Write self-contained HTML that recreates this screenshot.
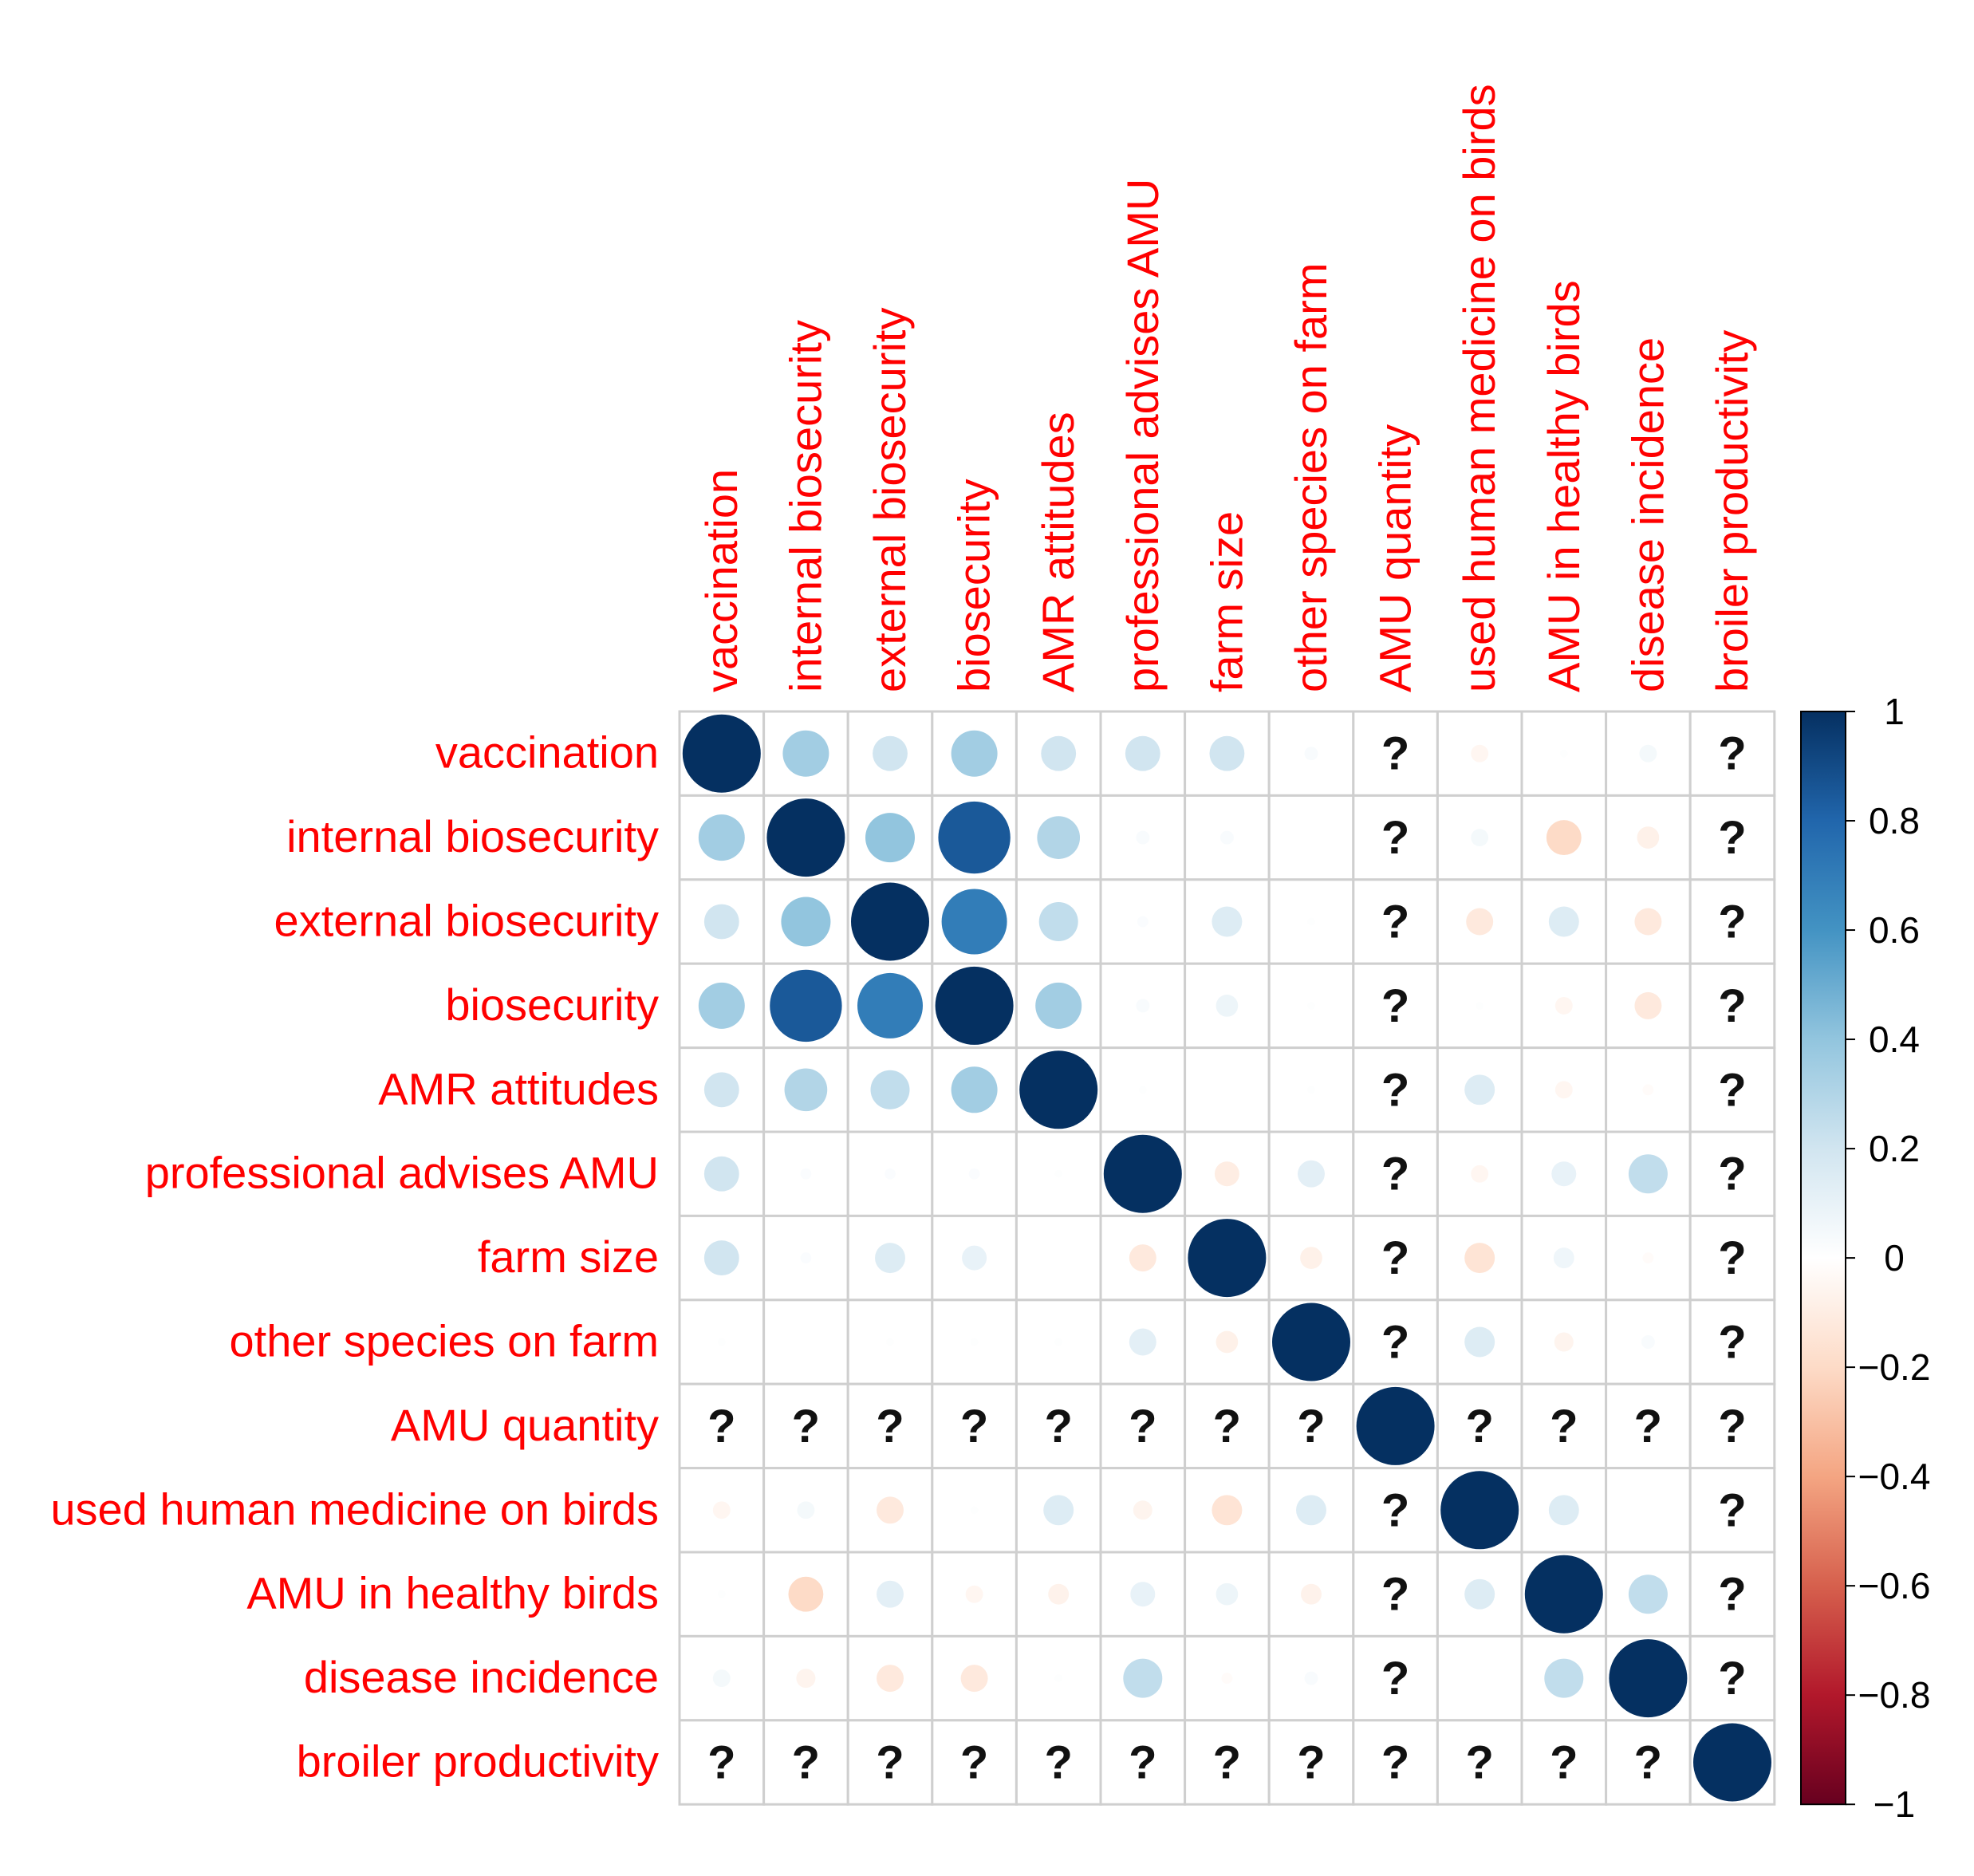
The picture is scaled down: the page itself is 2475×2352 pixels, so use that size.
<!DOCTYPE html>
<html><head><meta charset="utf-8"><style>
html,body{margin:0;padding:0;background:#fff;}
svg{display:block;font-family:"Liberation Sans",Arial,sans-serif;}
</style></head><body>
<svg id="chart" width="2475" height="2352" viewBox="0 0 2475 2352" xmlns="http://www.w3.org/2000/svg">
<g id="grid"></g>
<g id="marks"></g>
<g id="rowlabels"></g>
<g id="collabels"></g>
<g id="cbar"></g>
</svg>
<script>
const labels = ["vaccination","internal biosecurity","external biosecurity","biosecurity","AMR attitudes","professional advises AMU","farm size","other species on farm","AMU quantity","used human medicine on birds","AMU in healthy birds","disease incidence","broiler productivity"];
const N = null;
const r0  = [1, .35, .2, .35, .2, .2, .2, .03, N, -.05, .01, .05, N];
const r1  = [.35, 1, .4, .85, .3, .03, .03, 0, N, .05, -.2, -.08, N];
const r2  = [.2, .4, 1, .7, .25, .02, .15, .01, N, -.12, .15, -.12, N];
const r3  = [.35, .85, .7, 1, .35, .03, .08, .01, N, .01, -.05, -.12, N];
const r4  = [.2, .3, .25, .35, 1, .01, 0, .01, N, .15, -.05, -.02, N];
const r5  = [.2, .02, .02, .02, .01, 1, -.1, .12, N, -.05, .1, .25, N];
const r6  = [.2, .02, .15, .1, 0, -.12, 1, -.08, N, -.15, .07, -.02, N];
const r7  = [.01, 0, .01, .01, .01, .12, -.08, 1, N, .15, -.06, .03, N];
const r8  = [N, N, N, N, N, N, N, N, 1, N, N, N, N];
const r9  = [-.05, .05, -.12, .01, .15, -.06, -.15, .15, N, 1, .15, 0, N];
const r10 = [.01, -.2, .12, -.05, -.07, .1, .08, -.07, N, .15, 1, .25, N];
const r11 = [.05, -.06, -.12, -.12, .01, .25, -.02, .03, N, 0, .25, 1, N];
const r12 = [N, N, N, N, N, N, N, N, N, N, N, N, 1];
const matrix = [r0,r1,r2,r3,r4,r5,r6,r7,r8,r9,r10,r11,r12];
const tickValues = [1, .8, .6, .4, .2, 0, -.2, -.4, -.6, -.8, -1];
const tickLabels = ["1","0.8","0.6","0.4","0.2","0","\u22120.2","\u22120.4","\u22120.6","\u22120.8","\u22121"];

const NS = "http://www.w3.org/2000/svg";
const X0 = 852, Y0 = 892, CW = 105.6, CH = 105.4, RMAX = 49;
const n = labels.length;
const xc = j => X0 + CW*(j+0.5);
const yc = i => Y0 + CH*(i+0.5);
const stops = ["#67001F","#B2182B","#D6604D","#F4A582","#FDDBC7","#FFFFFF","#D1E5F0","#92C5DE","#4393C3","#2166AC","#053061"];
function hex(h){return [1,3,5].map(k=>parseInt(h.substr(k,2),16));}
function color(v){
  const t = (Math.max(-1,Math.min(1,v))+1)/2*10;
  const k = Math.min(9,Math.floor(t)), f = t-k;
  const a = hex(stops[k]), b = hex(stops[k+1]);
  return "rgb("+a.map((c,i)=>Math.round(c+(b[i]-c)*f)).join(",")+")";
}
function mk(tag, attrs, parent){
  const e = document.createElementNS(NS, tag);
  for (const k in attrs) e.setAttribute(k, attrs[k]);
  parent.appendChild(e); return e;
}
const grid = document.getElementById("grid");
const marks = document.getElementById("marks");
const rl = document.getElementById("rowlabels");
const cl = document.getElementById("collabels");
const cb = document.getElementById("cbar");

for (let i=0;i<n;i++){
  for (let j=0;j<n;j++){
    const cell = mk("rect",{x:X0+CW*j,y:Y0+CH*i,width:CW,height:CH,fill:"#fff",stroke:"#cfcfcf","stroke-width":3},grid);
    
    
    const v = matrix[i][j];
    if (v === null){
      const q = mk("text",{x:xc(j),y:yc(i)+20,"text-anchor":"middle","font-size":58,"font-weight":"bold",fill:"#111"},marks);
      q.textContent = "?";
      
      
    } else if (Math.abs(v) > 0.001){
      const c = mk("circle",{cx:xc(j),cy:yc(i),r:RMAX*Math.sqrt(Math.abs(v)),fill:color(v)},marks);
      
      
    }
  }
}
for (let i=0;i<n;i++){
  const t = mk("text",{x:826,y:yc(i)+18,"text-anchor":"end","font-size":56,fill:"#ff0000"},rl);
  t.textContent = labels[i];
  
  
  const tx = xc(i)+19, ty = 868;
  const c = mk("text",{x:tx,y:ty,"text-anchor":"start","font-size":56,fill:"#ff0000",transform:"rotate(-90 "+tx+" "+ty+")"},cl);
  c.textContent = labels[i];
  
  
}
// color bar
const BX = 2258, BW = 56, BY0 = Y0, BY1 = Y0 + CH*n;
const vy = v => BY0 + (1-v)/2*(BY1-BY0);
const defs = mk("defs",{},cb);
const lg = mk("linearGradient",{id:"g",x1:0,y1:0,x2:0,y2:1},defs);
for (let k=0;k<stops.length;k++){
  mk("stop",{offset:(k/10),"stop-color":stops[10-k]},lg);
}
const bar = mk("rect",{x:BX,y:BY0,width:BW,height:BY1-BY0,fill:"url(#g)",stroke:"#000","stroke-width":2},cb);


for (let k=0;k<tickValues.length;k++){
  const y = vy(tickValues[k]);
  const tk = mk("line",{x1:BX+BW,x2:BX+BW+12,y1:y,y2:y,stroke:"#000","stroke-width":2},cb);
  
  
  const t = mk("text",{x:2375,y:y+16,"text-anchor":"middle","font-size":46,fill:"#000"},cb);
  t.textContent = tickLabels[k];
  
  
}
</script>
</body></html>
